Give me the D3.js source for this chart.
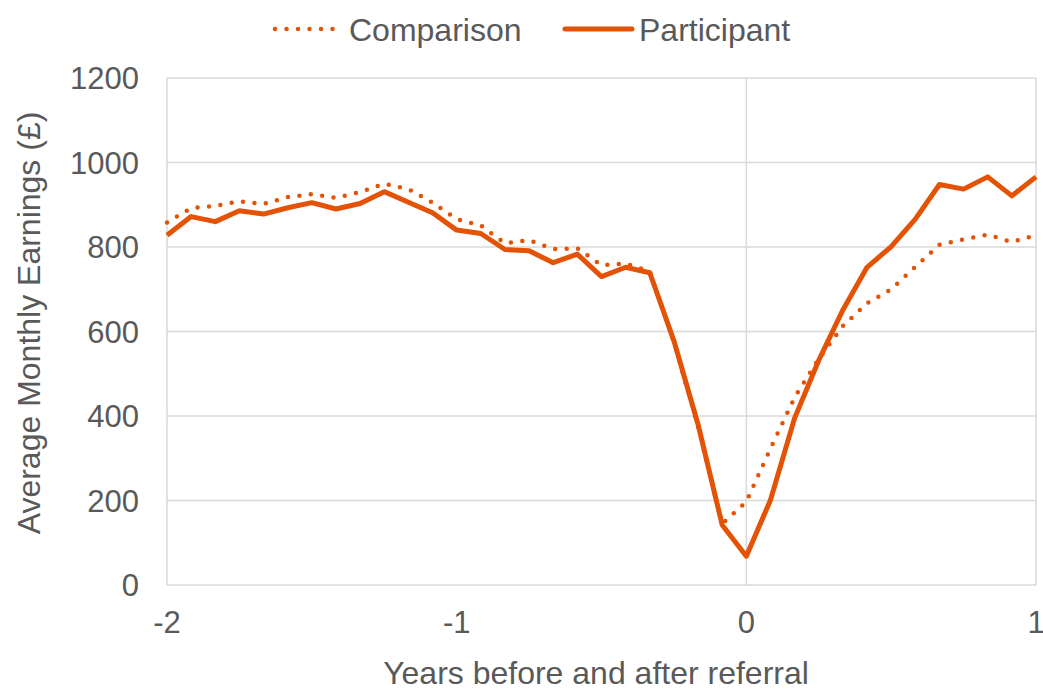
<!DOCTYPE html>
<html>
<head>
<meta charset="utf-8">
<script src="https://cdn.jsdelivr.net/npm/d3@7"></script>
<style>
  body { margin: 0; background: #fff; }
  svg text { font-family: "Liberation Sans", Arial, sans-serif; fill: #595959; }
</style>
</head>
<body>
<svg id="chart" width="1043" height="689"></svg>
<script>
// months relative to referral, -24 .. 12
var months = d3.range(-24, 13);

var participant = [828, 872, 860, 886, 878, 893, 905, 890, 903, 931, 906, 881,
    840, 832, 794, 791, 763, 783, 730, 752, 739, 578, 380, 142, 68,
    201, 395, 532, 651, 752, 801, 866, 948, 937, 966, 921, 966];

var comparison = [858, 892, 897, 908, 902, 918, 925, 916, 930, 950, 937, 905,
    866, 851, 809, 816, 795, 797, 757, 761, 742, 575, 375, 145, 197,
    323, 444, 535, 613, 667, 700, 753, 805, 818, 829, 812, 828];

var xTicks = [-2, -1, 0, 1];
var yTicks = [0, 200, 400, 600, 800, 1000, 1200];

var color = "#e35205";
var grid = "#d9d9d9";

var svg = d3.select("#chart");
var m = {left: 167, right: 1036, top: 78, bottom: 585};

var x = d3.scaleLinear().domain([-2, 1]).range([m.left, m.right]);
var y = d3.scaleLinear().domain([0, 1200]).range([m.bottom, m.top]);

// horizontal gridlines
svg.append("g").selectAll("line")
    .data(yTicks)
    .enter().append("line")
    .attr("x1", m.left).attr("x2", m.right)
    .attr("y1", d => y(d)).attr("y2", d => y(d))
    .attr("stroke", grid).attr("stroke-width", 1.5);

// vertical lines (plot edges and the referral line)
svg.append("g").selectAll("line")
    .data([-2, 0, 1])
    .enter().append("line")
    .attr("x1", d => x(d)).attr("x2", d => x(d))
    .attr("y1", m.top).attr("y2", m.bottom)
    .attr("stroke", grid).attr("stroke-width", 1.5);

// y tick labels
svg.append("g").selectAll("text")
    .data(yTicks)
    .enter().append("text")
    .attr("x", 139).attr("y", d => y(d))
    .attr("dy", "0.36em")
    .attr("text-anchor", "end")
    .style("font-size", "31px")
    .text(d => d);

// x tick labels
svg.append("g").selectAll("text")
    .data(xTicks)
    .enter().append("text")
    .attr("x", d => x(d)).attr("y", 622)
    .attr("dy", "0.36em")
    .attr("text-anchor", "middle")
    .style("font-size", "31px")
    .text(d => d);

// axis titles
svg.append("text")
    .attr("x", 596).attr("y", 684)
    .attr("text-anchor", "middle")
    .style("font-size", "32px")
    .text("Years before and after referral");

svg.append("text")
    .attr("transform", "translate(28,323) rotate(-90)")
    .attr("dy", "0.36em")
    .attr("text-anchor", "middle")
    .style("font-size", "32px")
    .text("Average Monthly Earnings (£)");

var line = d3.line()
    .x((d, i) => x(months[i] / 12))
    .y(d => y(d));

svg.append("path")
    .datum(comparison)
    .attr("d", line)
    .attr("fill", "none")
    .attr("stroke", color)
    .attr("stroke-width", 4.5)
    .attr("stroke-linecap", "round")
    .attr("stroke-dasharray", "0,11.5");

svg.append("path")
    .datum(participant)
    .attr("d", line)
    .attr("fill", "none")
    .attr("stroke", color)
    .attr("stroke-width", 5)
    .attr("stroke-linejoin", "round");

// legend
var legend = svg.append("g");
legend.append("line")
    .attr("x1", 275).attr("x2", 338).attr("y1", 29).attr("y2", 29)
    .attr("stroke", color).attr("stroke-width", 4.5)
    .attr("stroke-linecap", "round").attr("stroke-dasharray", "0,11.5");
legend.append("text")
    .attr("x", 349).attr("y", 29).attr("dy", "0.36em")
    .style("font-size", "32px")
    .text("Comparison");
legend.append("line")
    .attr("x1", 565).attr("x2", 632).attr("y1", 29).attr("y2", 29)
    .attr("stroke", color).attr("stroke-width", 5)
    .attr("stroke-linecap", "round");
legend.append("text")
    .attr("x", 639).attr("y", 29).attr("dy", "0.36em")
    .style("font-size", "32px")
    .text("Participant");
</script>
</body>
</html>
